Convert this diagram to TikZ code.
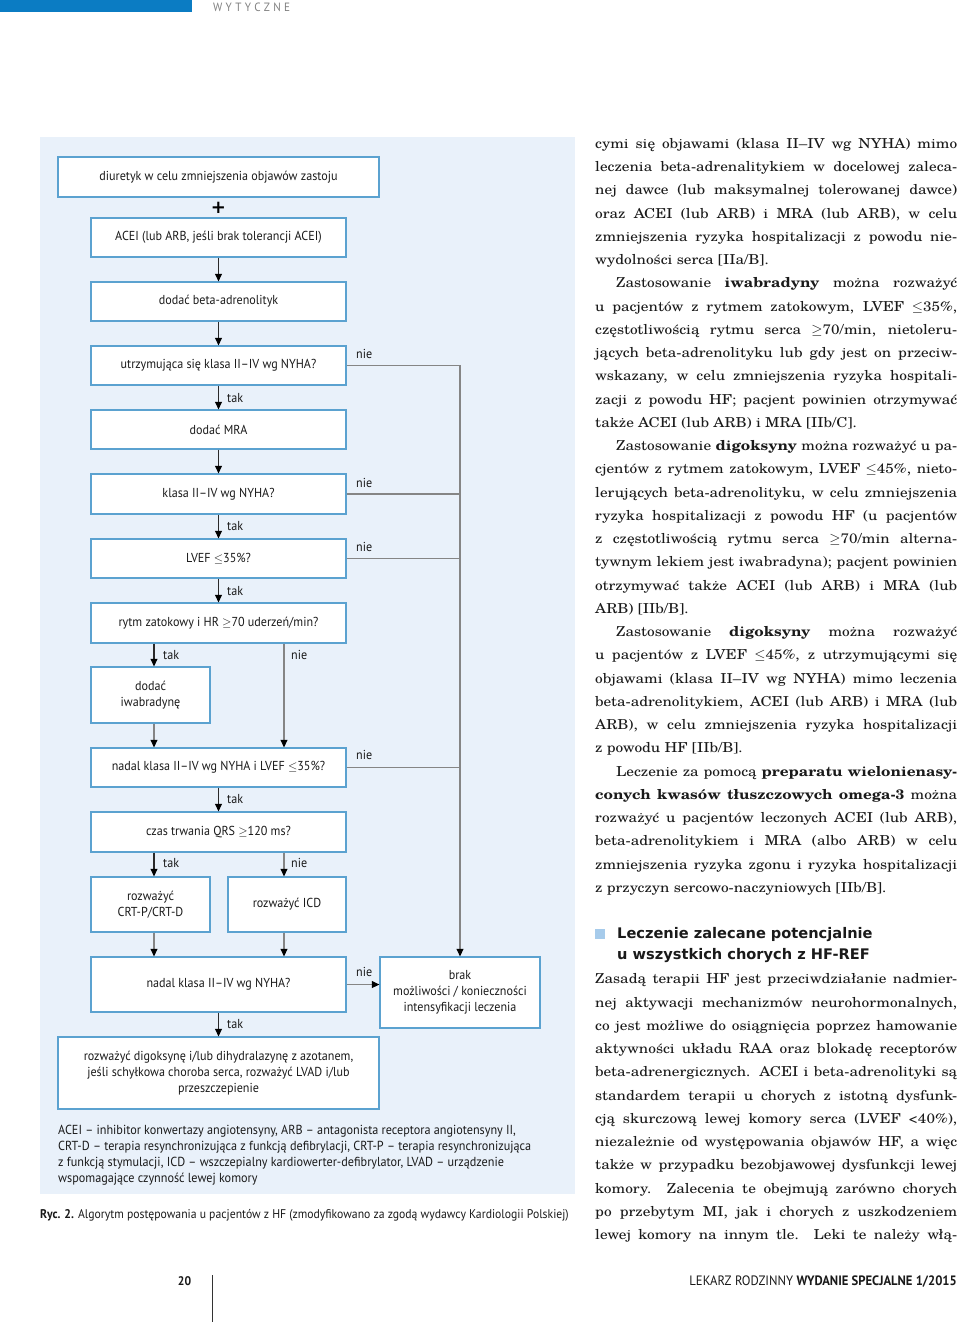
\documentclass[tikz,border=0pt]{standalone}
\usepackage{fontspec}
\setmainfont[FakeStretch=1.12]{TeX Gyre Schola}
\newfontfamily\fc[FakeStretch=0.93]{PT Sans}
\newfontfamily\hdf{DejaVu Sans}
\usetikzlibrary{arrows.meta,calc}
\definecolor{panel}{HTML}{E9F1FA}
\definecolor{boxc}{HTML}{5BA2D0}
\definecolor{headblue}{HTML}{0B7CC3}
\definecolor{linegray}{HTML}{858585}
\definecolor{arrdark}{HTML}{2A2A2A}
\definecolor{marker}{HTML}{A6CBEB}
\definecolor{hdgray}{HTML}{808080}
\definecolor{ink}{HTML}{1A1A1A}
\newcommand\jl[4]{\node[body,anchor=base west] (#1) at (#2,#3) {\makebox[\dimexpr957pt-#2pt\relax][s]{#4}};}
\newcommand\el[4]{\node[body,anchor=base west] (#1) at (#2,#3) {#4};}
\tikzset{
  body/.style={inner sep=0pt, text=ink, font=\fontsize{13.7pt}{16pt}\selectfont},
  hd/.style={inner sep=0pt, anchor=base west, text=ink, font=\hdf\bfseries\fontsize{14.6pt}{16pt}\selectfont},
  box/.style={draw=boxc, line width=1.3pt, fill=white, inner sep=2pt, align=center, text=ink,
              font=\fc\fontsize{13pt}{16pt}\selectfont},
  lbl/.style={inner sep=0pt, anchor=west, text=ink, font=\fc\fontsize{13pt}{16pt}\selectfont},
  leg/.style={inner sep=0pt, anchor=base west, text=ink, font=\fc\fontsize{13.1pt}{16pt}\selectfont},
  arr/.style={draw=arrdark, line width=1.1pt, -{Triangle[length=7.5pt,width=7pt,color=black]}},
  garr/.style={draw=linegray, line width=1.1pt, -{Triangle[length=7.5pt,width=7pt,color=black]}},
  gline/.style={draw=linegray, line width=1.1pt}
}
\begin{document}
\begin{tikzpicture}[x=1pt,y=-1pt]
\useasboundingbox (0,0) rectangle (960,1322);
\fill[white] (0,0) rectangle (960,1322);
% header
\fill[headblue] (0,0) rectangle (192,12);
\node[inner sep=0pt, anchor=west, text=hdgray, font=\fc\fontsize{12pt}{12pt}\selectfont] (hdr) at (213,7)
  {W\kern3.3pt Y\kern3.3pt T\kern3.3pt Y\kern3.3pt C\kern3.3pt Z\kern3.3pt N\kern3.3pt E};
% panel
\fill[panel] (40,137) rectangle (575,1194);
% boxes
\node[box, minimum width=321pt, minimum height=40pt] (b1) at (218.5,177) {diuretyk w celu zmniejszenia objawów zastoju};
\node[inner sep=0pt, text=black, font=\hdf\bfseries\fontsize{18pt}{18pt}\selectfont] (plus) at (218.5,207.5) {+};
\node[box, minimum width=255pt, minimum height=39pt] (b2) at (218.5,237.5) {ACEI (lub ARB, jeśli brak tolerancji ACEI)};
\node[box, minimum width=255pt, minimum height=39pt] (b3) at (218.5,301.5) {dodać beta-adrenolityk};
\node[box, minimum width=255pt, minimum height=39pt] (b4) at (218.5,365.5) {utrzymująca się klasa II–IV wg NYHA?};
\node[box, minimum width=255pt, minimum height=39pt] (b5) at (218.5,429.5) {dodać MRA};
\node[box, minimum width=255pt, minimum height=40pt] (b6) at (218.5,494) {klasa II–IV wg NYHA?};
\node[box, minimum width=255pt, minimum height=39pt] (b7) at (218.5,558.5) {LVEF \ensuremath{\leq}35\%?};
\node[box, minimum width=255pt, minimum height=40pt] (b8) at (218.5,623) {rytm zatokowy i HR \ensuremath{\geq}70 uderzeń/min?};
\node[box, minimum width=119pt, minimum height=56pt] (b9) at (150.5,695) {dodać\\iwabradynę};
\node[box, minimum width=255pt, minimum height=39pt] (b10) at (218.5,767.5) {nadal klasa II–IV wg NYHA i LVEF \ensuremath{\leq}35\%?};
\node[box, minimum width=255pt, minimum height=40pt] (b11) at (218.5,832) {czas trwania QRS \ensuremath{\geq}120 ms?};
\node[box, minimum width=119pt, minimum height=55pt] (b12) at (150.5,904.5) {rozważyć\\CRT-P/CRT-D};
\node[box, minimum width=118pt, minimum height=55pt] (b13) at (287,904.5) {rozważyć ICD};
\node[box, minimum width=255pt, minimum height=55pt] (b14) at (218.5,984.5) {nadal klasa II–IV wg NYHA?};
\node[box, minimum width=321pt, minimum height=72pt] (b15) at (218.5,1073) {rozważyć digoksynę i/lub dihydralazynę z azotanem,\\jeśli schyłkowa choroba serca, rozważyć LVAD i/lub\\przeszczepienie};
\node[box, minimum width=160pt, minimum height=71pt] (b16) at (460,992.5) {brak\\możliwości / konieczności\\intensyfikacji leczenia};
% connectors
\draw[arr] (b2) -- (b3);
\draw[arr] (b3) -- (b4);
\draw[arr] (b4) -- (b5);
\draw[arr] (b5) -- (b6);
\draw[arr] (b6) -- (b7);
\draw[arr] (b7) -- (b8);
\draw[arr] ([xshift=3.5pt]b9.north |- b8.south) -- ([xshift=3.5pt]b9.north);
\draw[garr] ([xshift=-3pt]b13.north |- b8.south) -- ([xshift=-3pt]b13.north |- b10.north);
\draw[garr] ([xshift=3.5pt]b9.south) -- ([xshift=3.5pt]b9.south |- b10.north);
\draw[arr] (b10) -- (b11);
\draw[arr] ([xshift=3.5pt]b12.north |- b11.south) -- ([xshift=3.5pt]b12.north);
\draw[garr] ([xshift=-3pt]b13.north |- b11.south) -- ([xshift=-3pt]b13.north);
\draw[garr] ([xshift=3.5pt]b12.south) -- ([xshift=3.5pt]b12.south |- b14.north);
\draw[garr] ([xshift=-3pt]b13.south) -- ([xshift=-3pt]b13.south |- b14.north);
\draw[arr] (b14) -- (b15);
\draw[garr] (b14.east) -- (b16.west |- b14.east);
\draw[garr] (b4.east) -| (b16.north);
\draw[gline] (b6.east) -- (b6.east -| b16.north);
\draw[gline] (b7.east) -- (b7.east -| b16.north);
\draw[gline] (b10.east) -- (b10.east -| b16.north);
% labels
\node[lbl] (n1) at (356,354) {nie};
\node[lbl] (k1) at (227,398) {tak};
\node[lbl] (n2) at (356,483) {nie};
\node[lbl] (k2) at (227,526) {tak};
\node[lbl] (n3) at (356,547) {nie};
\node[lbl] (k3) at (227,591) {tak};
\node[lbl] (k4) at (163,655) {tak};
\node[lbl] (n4) at (291,655) {nie};
\node[lbl] (n5) at (356,755) {nie};
\node[lbl] (k5) at (227,799) {tak};
\node[lbl] (k6) at (163,863) {tak};
\node[lbl] (n6) at (291,863) {nie};
\node[lbl] (n7) at (356,972) {nie};
\node[lbl] (k7) at (227,1024) {tak};
% legend
\node[leg] (g1) at (58,1134) {ACEI – inhibitor konwertazy angiotensyny, ARB – antagonista receptora angiotensyny II,};
\node[leg] (g2) at (58,1150.3) {CRT-D – terapia resynchronizująca z funkcją defibrylacji, CRT-P – terapia resynchronizująca};
\node[leg] (g3) at (58,1166.6) {z funkcją stymulacji, ICD – wszczepialny kardiowerter-defibrylator, LVAD – urządzenie};
\node[leg] (g4) at (58,1182.9) {wspomagające czynność lewej komory};
\node[leg, font=\fc\fontsize{12.6pt}{16pt}\selectfont] (cap) at (40,1218) {\textbf{Ryc. 2.} Algorytm postępowania u pacjentów z HF (zmodyfikowano za zgodą wydawcy Kardiologii Polskiej)};
% right column
\jl{t1}{595}{148.3}{cymi się objawami (klasa II–IV wg NYHA) mimo}
\jl{t2}{595}{171.55}{leczenia beta-adrenalitykiem w docelowej zaleca-}
\jl{t3}{595}{194.8}{nej dawce (lub maksymalnej tolerowanej dawce)}
\jl{t4}{595}{218.05}{oraz ACEI (lub ARB) i MRA (lub ARB), w celu}
\jl{t5}{595}{241.3}{zmniejszenia ryzyka hospitalizacji z powodu nie-}
\el{t6}{595}{264.55}{wydolności serca [IIa/B].}
\jl{t7}{616}{287.8}{Zastosowanie \textbf{iwabradyny} można rozważyć}
\jl{t8}{595}{311.05}{u pacjentów z rytmem zatokowym, LVEF $\leq$35\%,}
\jl{t9}{595}{334.3}{częstotliwością rytmu serca $\geq$70/min, nietoleru-}
\jl{t10}{595}{357.55}{jących beta-adrenolityku lub gdy jest on przeciw-}
\jl{t11}{595}{380.8}{wskazany, w celu zmniejszenia ryzyka hospitali-}
\jl{t12}{595}{404.05}{zacji z powodu HF; pacjent powinien otrzymywać}
\el{t13}{595}{427.3}{także ACEI (lub ARB) i MRA [IIb/C].}
\jl{t14}{616}{450.55}{Zastosowanie \textbf{digoksyny} można rozważyć u pa-}
\jl{t15}{595}{473.8}{cjentów z rytmem zatokowym, LVEF $\leq$45\%, nieto-}
\jl{t16}{595}{497.05}{lerujących beta-adrenolityku, w celu zmniejszenia}
\jl{t17}{595}{520.3}{ryzyka hospitalizacji z powodu HF (u pacjentów}
\jl{t18}{595}{543.55}{z częstotliwością rytmu serca $\geq$70/min alterna-}
\jl{t19}{595}{566.8}{tywnym lekiem jest iwabradyna); pacjent powinien}
\jl{t20}{595}{590.05}{otrzymywać także ACEI (lub ARB) i MRA (lub}
\el{t21}{595}{613.3}{ARB) [IIb/B].}
\jl{t22}{616}{636.55}{Zastosowanie \textbf{digoksyny} można rozważyć}
\jl{t23}{595}{659.8}{u pacjentów z LVEF $\leq$45\%, z utrzymującymi się}
\jl{t24}{595}{683.05}{objawami (klasa II–IV wg NYHA) mimo leczenia}
\jl{t25}{595}{706.3}{beta-adrenolitykiem, ACEI (lub ARB) i MRA (lub}
\jl{t26}{595}{729.55}{ARB), w celu zmniejszenia ryzyka hospitalizacji}
\el{t27}{595}{752.8}{z powodu HF [IIb/B].}
\jl{t28}{616}{776.05}{Leczenie za pomocą \textbf{preparatu wielonienasy-}}
\jl{t29}{595}{799.3}{\textbf{conych kwasów tłuszczowych omega-3} można}
\jl{t30}{595}{822.55}{rozważyć u pacjentów leczonych ACEI (lub ARB),}
\jl{t31}{595}{845.8}{beta-adrenolitykiem i MRA (albo ARB) w celu}
\jl{t32}{595}{869.05}{zmniejszenia ryzyka zgonu i ryzyka hospitalizacji}
\el{t33}{595}{892.3}{z przyczyn sercowo-naczyniowych [IIb/B].}
% heading
\fill[marker] (595,929) rectangle (605,938.5);
\node[hd] (h1) at (617,938) {Leczenie zalecane potencjalnie};
\node[hd] (h2) at (617,959.5) {u wszystkich chorych z HF-REF};
\jl{u1}{595}{983.8}{Zasadą terapii HF jest przeciwdziałanie nadmier-}
\jl{u2}{595}{1007.05}{nej aktywacji mechanizmów neurohormonalnych,}
\jl{u3}{595}{1030.3}{co jest możliwe do osiągnięcia poprzez hamowanie}
\jl{u4}{595}{1053.55}{aktywności układu RAA oraz blokadę receptorów}
\jl{u5}{595}{1076.8}{beta-adrenergicznych. ACEI i beta-adrenolityki są}
\jl{u6}{595}{1100.05}{standardem terapii u chorych z istotną dysfunk-}
\jl{u7}{595}{1123.3}{cją skurczową lewej komory serca (LVEF <40\%),}
\jl{u8}{595}{1146.55}{niezależnie od występowania objawów HF, a więc}
\jl{u9}{595}{1169.8}{także w przypadku bezobjawowej dysfunkcji lewej}
\jl{u10}{595}{1193.05}{komory. Zalecenia te obejmują zarówno chorych}
\jl{u11}{595}{1216.3}{po przebytym MI, jak i chorych z uszkodzeniem}
\jl{u12}{595}{1239.55}{lewej komory na innym tle. Leki te należy włą-}
% footer
\node[inner sep=0pt, anchor=base, text=ink, font=\fc\bfseries\fontsize{12.5pt}{14pt}\selectfont] (pg) at (184.5,1285) {20};
\coordinate (fl1) at (212,1275);
\coordinate (fl2) at (212,1322);
\draw[line width=0.8pt, black!80] (fl1) -- (fl2);
\node[inner sep=0pt, anchor=base east, text=ink, font=\fc\fontsize{13.6pt}{14pt}\selectfont] (ft) at (957,1285)
  {LEKARZ RODZINNY \textbf{WYDANIE SPECJALNE 1/2015}};
\end{tikzpicture}
\end{document}
